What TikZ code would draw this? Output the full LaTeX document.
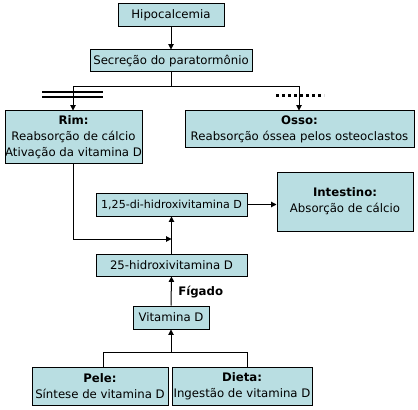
\documentclass[tikz,border=0pt]{standalone}
\usepackage{fontspec}
\setmainfont{DejaVu Sans}
\usetikzlibrary{arrows.meta}
\definecolor{boxfill}{RGB}{185,222,226}
\begin{document}
\begin{tikzpicture}[x=0.75pt,y=-0.75pt,
  box/.style={draw=black,fill=boxfill,line width=0.75pt,inner sep=0pt,align=center,
    font=\fontsize{8.8}{12}\selectfont},
  conn/.style={line width=0.75pt},
  arr/.style={line width=0.75pt,-{Triangle[length=4pt,width=4pt]}}]
\useasboundingbox (0,0) rectangle (418,410);
\node[box,minimum width=106*0.75pt,minimum height=23*0.75pt] (hipo) at (171,15.5) {Hipocalcemia};
\node[box,minimum width=162*0.75pt,minimum height=22*0.75pt] (sec) at (171,61) {Secreção do paratormônio};
\node[box,minimum width=137*0.75pt,minimum height=52*0.75pt] (rim) at (73.5,137) {\textbf{Rim:}\\Reabsorção de cálcio\\Ativação da vitamina D};
\node[box,minimum width=229*0.75pt,minimum height=37*0.75pt] (osso) at (299.5,129.5) {\textbf{Osso:}\\Reabsorção óssea pelos osteoclastos};
\node[box,minimum width=136*0.75pt,minimum height=59*0.75pt] (int) at (345,201.5) {\textbf{Intestino:}\\Absorção de cálcio};
\node[box,minimum width=151*0.75pt,minimum height=23*0.75pt,font=\fontsize{8.3}{12}\selectfont] (d125) at (171.5,204.5) {1,25-di-hidroxivitamina D};
\node[box,minimum width=151*0.75pt,minimum height=22*0.75pt] (d25) at (171.5,265) {25-hidroxivitamina D};
\node[box,minimum width=76*0.75pt,minimum height=23*0.75pt] (vitd) at (171,317.5) {Vitamina D};
\node[box,minimum width=136*0.75pt,minimum height=38*0.75pt] (pele) at (100,386) {\textbf{Pele:}\\Síntese de vitamina D};
\node[box,minimum width=140*0.75pt,minimum height=38*0.75pt] (dieta) at (242,386) {\textbf{Dieta:}\\Ingestão de vitamina D};
\node[anchor=west,inner sep=0pt,font=\fontsize{8.8}{12}\selectfont\bfseries] (fig) at (178,292) {Fígado};
% connectors
\draw[arr] (hipo.south) -- (sec.north);
\coordinate (split) at (171,87);
\coordinate (rimtop) at (73,87);
\coordinate (ossotop) at (299,87);
\draw[conn] (sec.south) -- (split);
\draw[arr] (split) -- (rimtop) -- (rimtop |- rim.north);
\draw[arr] (split) -- (ossotop) -- (ossotop |- osso.north);
\coordinate (rimbot) at (73,239);
\coordinate (join) at (171.5,239);
\draw[arr] (rimbot |- rim.south) -- (rimbot) -- (join);
\draw[arr] (d25.north) -- (d125.south);
\draw[arr] (d125.east) -- (d125.east -| int.west);
\draw[arr] (vitd.north) -- (d25.north |- d25.south);
\coordinate (merge) at (171,352);
\coordinate (pelec) at (103,352);
\coordinate (dietac) at (247,352);
\draw[arr] (merge) -- (vitd.south);
\draw[conn] (pelec |- pele.north) -- (pelec) -- (dietac) -- (dietac |- dieta.north);
% symbols
\coordinate (dl1) at (42,92); \coordinate (dl2) at (103,92);
\coordinate (dl3) at (42,97); \coordinate (dl4) at (103,97);
\draw[line width=1.6pt] (dl1) -- (dl2);
\draw[line width=1.6pt] (dl3) -- (dl4);
\coordinate (dt1) at (276,95.5); \coordinate (dt2) at (324,95.5);
\draw[line width=1.7pt,dash pattern=on 2.25pt off 2.25pt] (dt1) -- (dt2);
\end{tikzpicture}
\end{document}
